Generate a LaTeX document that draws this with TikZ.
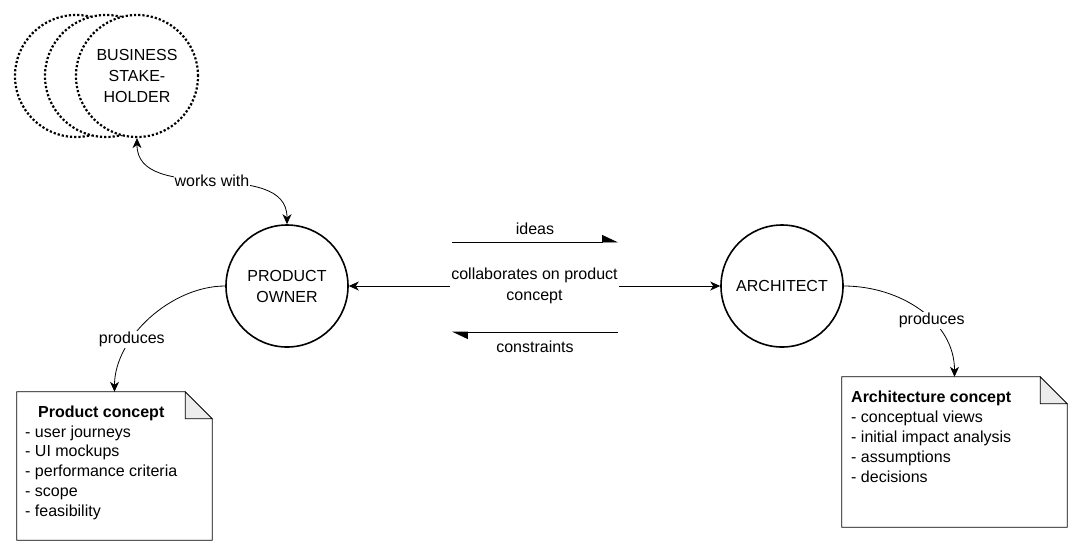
\documentclass[tikz,border=0pt]{standalone}
\usepackage{fontspec}
\setmainfont{Liberation Sans}
\usetikzlibrary{arrows.meta}

\tikzset{
    role/.style={circle,draw,line width=1.6pt,minimum size=122pt,inner sep=0,align=center,font=\fontsize{16}{21}\selectfont},
    crowd/.style={circle,draw,line width=2.2pt,dash pattern=on 2.2pt off 2pt,fill=white,minimum size=122pt,inner sep=0,align=center,font=\fontsize{16}{21}\selectfont},
    link/.style={line width=0.8pt,{Stealth[length=10pt,width=9pt,inset=3pt]}-{Stealth[length=10pt,width=9pt,inset=3pt]}},
    flow/.style={line width=0.8pt,-{Triangle[harpoon,length=15pt,width=14pt]}},
    lbl/.style={fill=white,inner sep=1pt,align=center,font=\fontsize{16}{21}\selectfont},
    note/.style={rectangle,inner sep=0},
    notetext/.style={inner sep=0,anchor=north west,font=\fontsize{16}{19.7}\selectfont}
    }

\begin{document}
\begin{tikzpicture}[x=1pt,y=1pt]
    \useasboundingbox (0,0) rectangle (1083,-558);
    % The actors
    \node(bs3)[crowd] at (76,-76) {};
    \node(bs2)[crowd] at (106,-76) {};
    \node(bs)[crowd] at (137,-76) {BUSINESS\\STAKE-\\HOLDER};
    \node(po)[role] at (287,-286) {PRODUCT\\OWNER};
    \node(arch)[role] at (782,-286) {ARCHITECT};
    % The notes
    \node(pc)[note,minimum width=195pt,minimum height=148pt] at (114.5,-466) {};
    \node(ac)[note,minimum width=225pt,minimum height=150pt] at (954.5,-452) {};
    \foreach \n in {pc,ac}{
        \draw[line width=0.8pt] (\n.south west) |- ([xshift=-27pt]\n.north east)
            -- ([yshift=-27pt]\n.north east) -- (\n.south east) -- cycle;
        \draw[line width=0.8pt,fill=gray!15] ([xshift=-27pt]\n.north east)
            |- ([yshift=-27pt]\n.north east) -- cycle;
    }
    \node(pctext)[notetext] at (25,-403.5) {\renewcommand{\arraystretch}{1}\setlength{\tabcolsep}{0pt}%
        \begin{tabular}{l}
            \multicolumn{1}{c}{\textbf{Product concept}}\\
            - user journeys\\
            - UI mockups\\
            - performance criteria\\
            - scope\\
            - feasibility
        \end{tabular}};
    \node(actext)[notetext,align=left,font=\fontsize{16}{20}\selectfont] at (851,-391) {\textbf{Architecture concept}\\
        - conceptual views\\
        - initial impact analysis\\
        - assumptions\\
        - decisions};
    % The connectors
    \draw[link] (bs.south) to[out=-90,in=90] node[lbl]{works with} (po.north);
    \draw[link] (po.east) -- node[lbl]{collaborates on product\\concept} (arch.west);
    \draw[line width=0.8pt,-{Stealth[length=10pt,width=9pt,inset=3pt]}] (po.west)
        to[out=180,in=90,looseness=0.9] node[lbl,pos=0.66]{produces} (pc.north);
    \draw[line width=0.8pt,-{Stealth[length=10pt,width=9pt,inset=3pt]}] (arch.east)
        to[out=0,in=90] node[lbl,pos=0.6]{produces} (ac.north);
    % The flows
    \coordinate(ideasA) at (452,-242);
    \coordinate(ideasB) at (618,-242);
    \coordinate(consA) at (618,-332);
    \coordinate(consB) at (452,-332);
    \draw[flow] (ideasA) -- node[lbl,above=6pt,fill=none]{ideas} (ideasB);
    \draw[flow] (consA) -- node[lbl,below=7pt,fill=none]{constraints} (consB);
\end{tikzpicture}
\end{document}
